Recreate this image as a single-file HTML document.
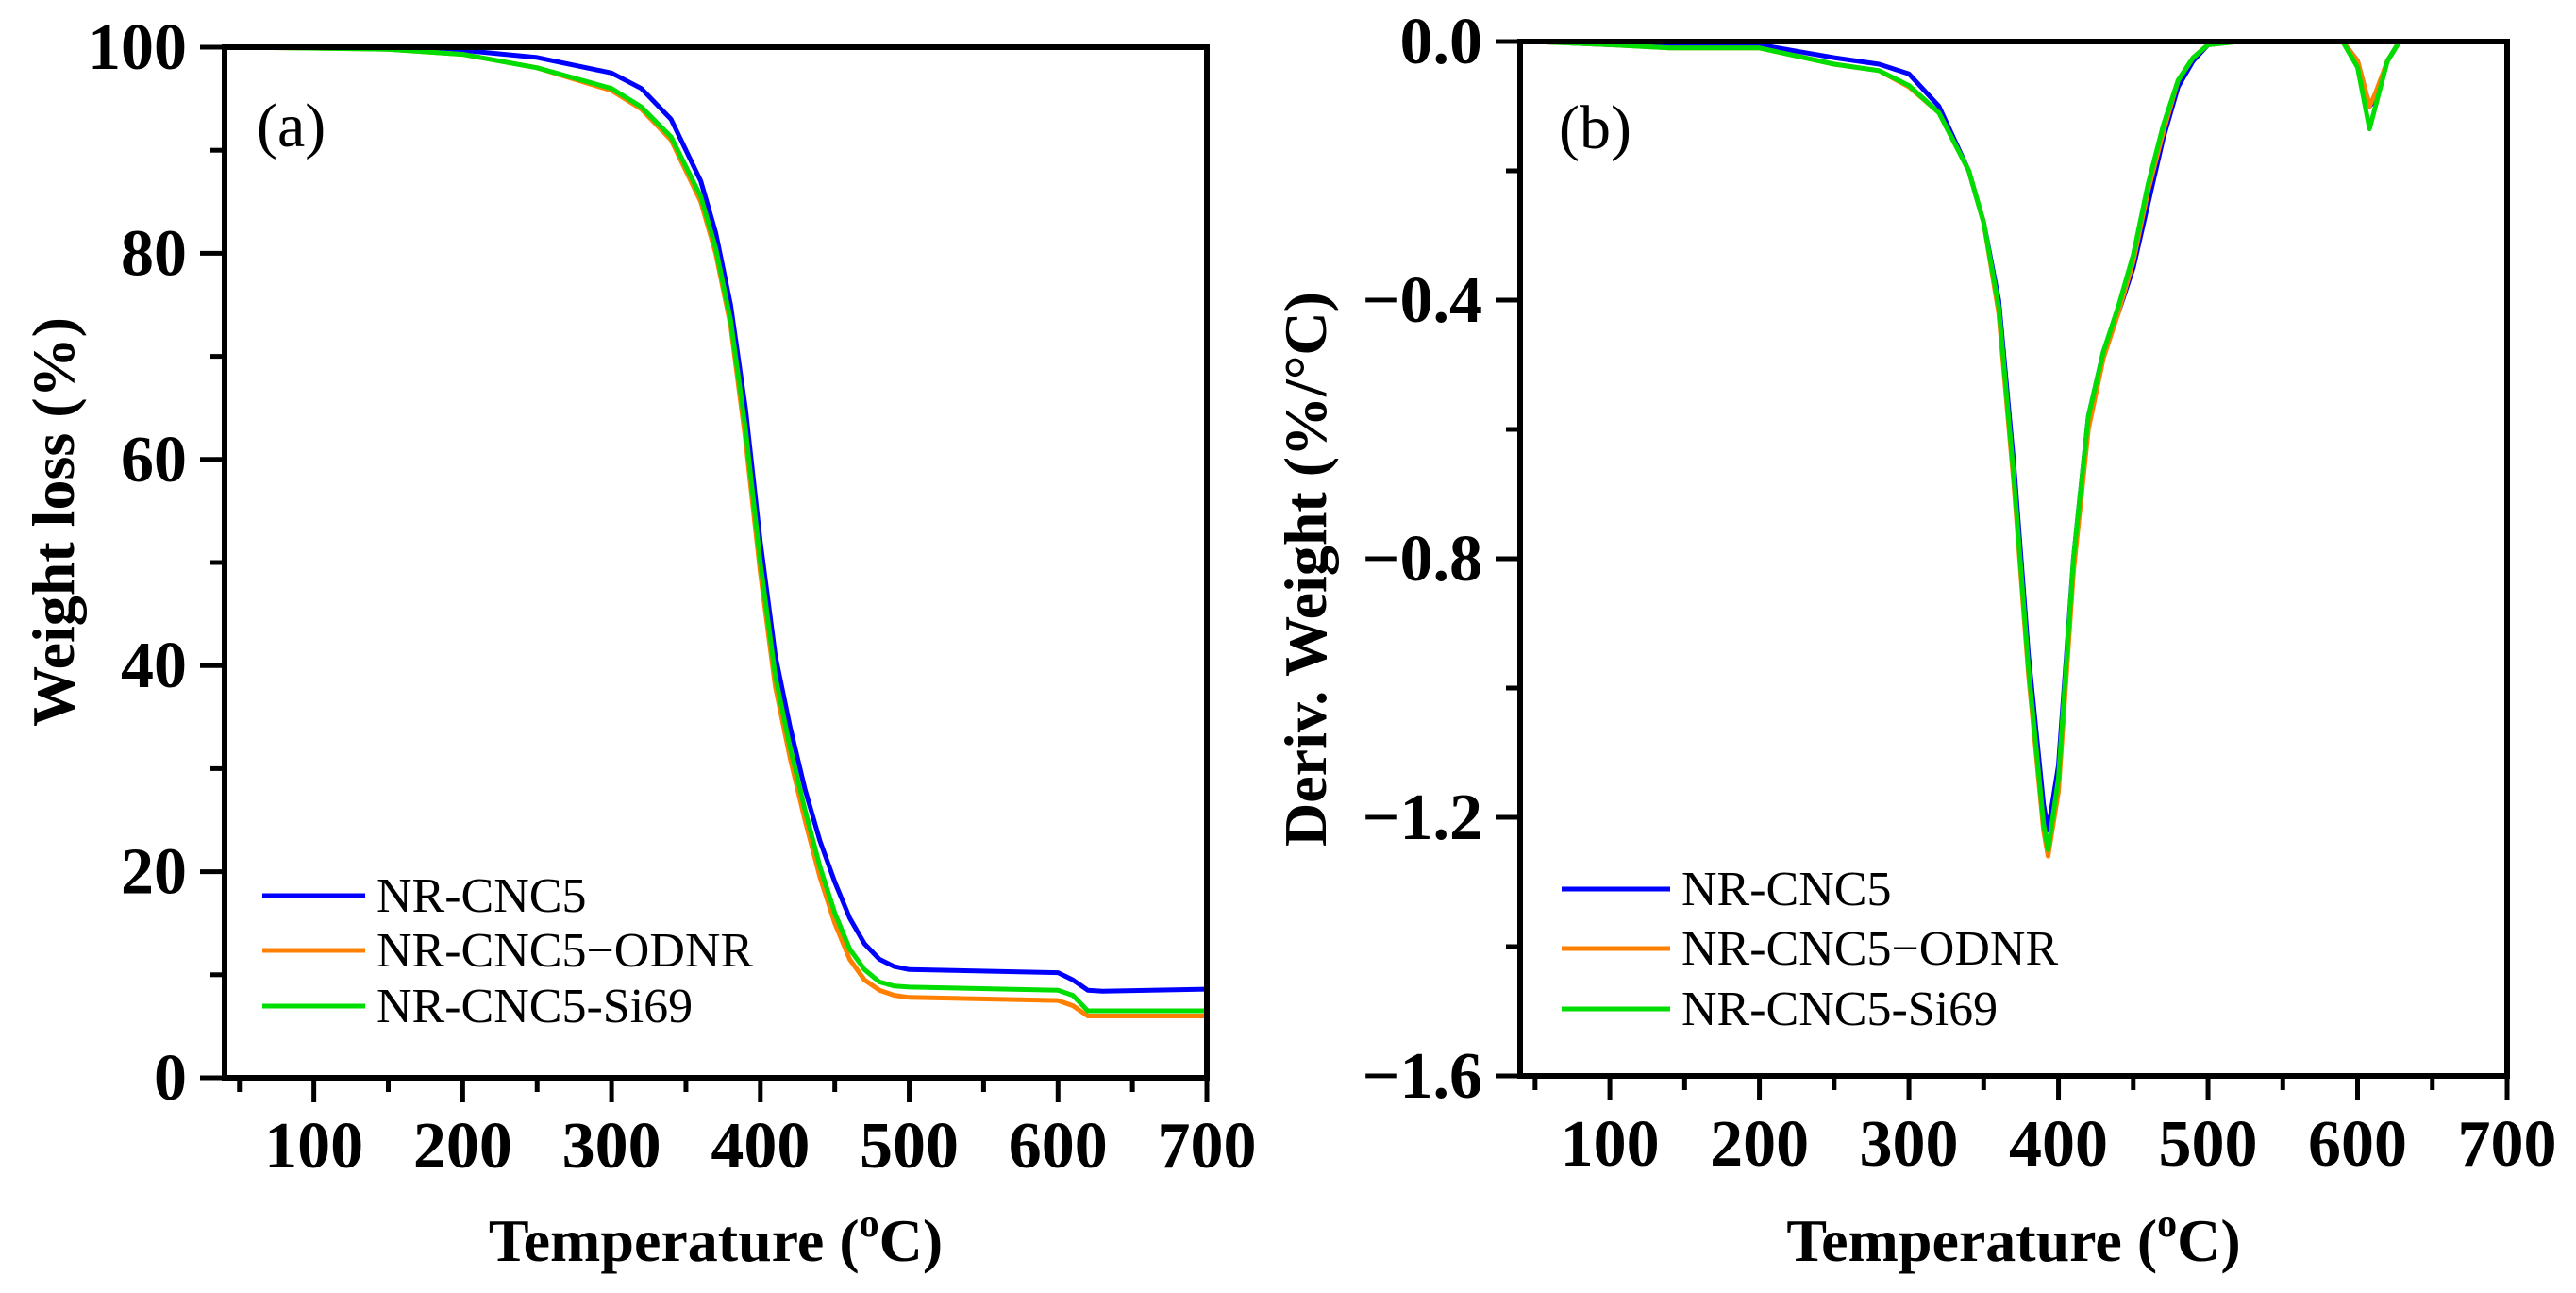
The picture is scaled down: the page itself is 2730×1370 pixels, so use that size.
<!DOCTYPE html>
<html><head><meta charset="utf-8"><style>
html,body{margin:0;padding:0;background:#fff;}
svg{display:block;font-family:"Liberation Serif",serif;}
</style></head><body>
<svg id="fig" width="2730" height="1370" viewBox="0 0 2730 1370" xmlns="http://www.w3.org/2000/svg">
<g id="pa"></g>
<g id="pb"></g>
</svg>
<script>
// Panel (a) TGA data
const tgaT = [50,150,200,250,300,320,340,360,370,380,390,400,410,420,430,440,450,460,470,480,490,500,600,610,620,630,700];
const tgaBlue = [100,99.9,99.7,99,97.5,96,93,87,82,75,65,52,41,34,28,23,19,15.5,13,11.5,10.8,10.5,10.2,9.5,8.5,8.4,8.6];
const tgaOrange = [100,99.8,99.3,98,95.8,94,91,85,80,73,62,49,38,31,25,19.5,15,11.5,9.5,8.5,8,7.8,7.5,7,6,6,6];
const tgaGreen = [100,99.8,99.3,98,96,94.2,91.3,85.5,80.5,73.5,63,50,39,32,26,20.5,16,12.5,10.5,9.3,8.9,8.8,8.5,8,6.5,6.5,6.5];
// Panel (b) DTG data
const dtgT = [50,100,140,200,250,280,300,320,340,350,360,370,380,390,393,400,410,420,430,440,450,460,470,480,490,500,520,590,600,608,612,620,628];
const dtgBlue = [0,-0.005,-0.005,-0.005,-0.025,-0.035,-0.05,-0.1,-0.2,-0.28,-0.4,-0.65,-0.95,-1.18,-1.22,-1.12,-0.8,-0.58,-0.48,-0.42,-0.35,-0.25,-0.15,-0.07,-0.03,-0.005,0,0,-0.03,-0.1,-0.09,-0.03,0];
const dtgOrange = [0,-0.005,-0.01,-0.01,-0.035,-0.045,-0.07,-0.11,-0.2,-0.28,-0.42,-0.68,-0.98,-1.22,-1.26,-1.16,-0.82,-0.6,-0.49,-0.42,-0.34,-0.23,-0.14,-0.06,-0.025,-0.005,0,0,-0.03,-0.1,-0.08,-0.03,0];
const dtgGreen = [0,-0.005,-0.01,-0.01,-0.035,-0.045,-0.068,-0.11,-0.2,-0.28,-0.41,-0.67,-0.97,-1.21,-1.25,-1.14,-0.8,-0.58,-0.48,-0.41,-0.33,-0.22,-0.13,-0.06,-0.025,-0.005,0,0,-0.04,-0.135,-0.1,-0.03,0];
const xTicks = [100,200,300,400,500,600,700];
const aYTicks = [0,20,40,60,80,100];
const bYTicks = [0,-0.4,-0.8,-1.2,-1.6];
const bYLabels = ["0.0","\u22120.4","\u22120.8","\u22121.2","\u22121.6"];
const legendNames = ["NR-CNC5","NR-CNC5\u2212ODNR","NR-CNC5-Si69"];
const colors = ["#0000ff","#ff8000","#00dd00"];

const NS="http://www.w3.org/2000/svg";
function mk(parent,tag,attrs,text){const e=document.createElementNS(NS,tag);for(const k in attrs)e.setAttribute(k,attrs[k]);if(text!==undefined)e.textContent=text;parent.appendChild(e);return e;}

function panel(g,cfg){
  const {L,R,T,B,ymin,ymax}=cfg;
  const sx=v=>L+(v-40)/(700-40)*(R-L);
  const sy=v=>B-(v-ymin)/(ymax-ymin)*(B-T);
  const cp=mk(g,'clipPath',{id:cfg.id+'clip'});
  mk(cp,'rect',{x:L,y:T,width:R-L,height:B-T});
  cfg.series.forEach((s,i)=>{
    const d=cfg.xs.map((x,j)=>(j?'L':'M')+sx(x).toFixed(1)+','+sy(s[j]).toFixed(1)).join(' ');
    const p=mk(g,'path',{d:d,fill:'none',stroke:colors[i],'stroke-width':5,'stroke-linejoin':'round','clip-path':'url(#'+cfg.id+'clip)'});
    
    
  });
  const fr=mk(g,'rect',{x:L,y:T,width:R-L,height:B-T,fill:'none',stroke:'#000','stroke-width':6});
  
  
  for(let v=50;v<=700;v+=50){
    const major=v%100===0;
    mk(g,'line',{x1:sx(v),x2:sx(v),y1:B,y2:B+(major?26:15),stroke:'#000','stroke-width':5});
  }
  xTicks.forEach(v=>{
    const t=mk(g,'text',{x:sx(v),y:B+95,'text-anchor':'middle','font-size':70,'font-weight':'bold'},String(v));
    
    
  });
  const step=cfg.yMinor;
  for(let k=0;;k++){const v=ymin+k*step;if(v>ymax+1e-9)break;
    const major=(k%2===0);
    mk(g,'line',{x1:L-(major?26:15),x2:L,y1:sy(v),y2:sy(v),stroke:'#000','stroke-width':5});
  }
  cfg.yTicks.forEach((v,i)=>{
    const t=mk(g,'text',{x:L-40,y:sy(v)+23,'text-anchor':'end','font-size':70,'font-weight':'bold'},cfg.yLabels[i]);
    
    
  });
  const xt=mk(g,'text',{x:(L+R)/2,y:1336,'text-anchor':'middle','font-size':64,'font-weight':'bold'});
  
  
  mk(xt,'tspan',{},'Temperature (');
  mk(xt,'tspan',{dy:-26,'font-size':42},'o');
  mk(xt,'tspan',{dy:26},'C)');
  const yt=mk(g,'text',{x:0,y:0,'text-anchor':'middle','font-size':64,'font-weight':'bold',transform:'translate('+cfg.ytx+','+cfg.yty+') rotate(-90)'},cfg.ytitle);
  
  
  const pl=mk(g,'text',{x:cfg.plx,y:cfg.ply,'font-size':66},cfg.plabel);
  
  
  legendNames.forEach((n,i)=>{
    const y=cfg.legY[i];
    const lg=mk(g,'g',{});
    
    
    mk(lg,'line',{x1:cfg.legX1,x2:cfg.legX2,y1:y,y2:y,stroke:colors[i],'stroke-width':5});
    mk(lg,'text',{x:cfg.legX2+12,y:y+17,'font-size':52},n);
  });
}
panel(document.getElementById('pa'),{id:'a',L:238,R:1279,T:50,B:1142,ymin:0,ymax:100,yMinor:10,
  xs:tgaT,series:[tgaBlue,tgaOrange,tgaGreen],yTicks:aYTicks,yLabels:aYTicks.map(String),
  ytitle:'Weight loss (%)',ytx:78,yty:553,plabel:'(a)',plx:272,ply:155,
  legX1:278,legX2:387,legY:[949,1007,1066]});
panel(document.getElementById('pb'),{id:'b',L:1611,R:2657,T:44,B:1140,ymin:-1.6,ymax:0,yMinor:0.2,
  xs:dtgT,series:[dtgBlue,dtgOrange,dtgGreen],yTicks:bYTicks,yLabels:bYLabels,
  ytitle:'Deriv. Weight (%/\u00B0C)',ytx:1405,yty:603,plabel:'(b)',plx:1652,ply:157,
  legX1:1655,legX2:1770,legY:[942,1005,1069]});
</script>
</body></html>
